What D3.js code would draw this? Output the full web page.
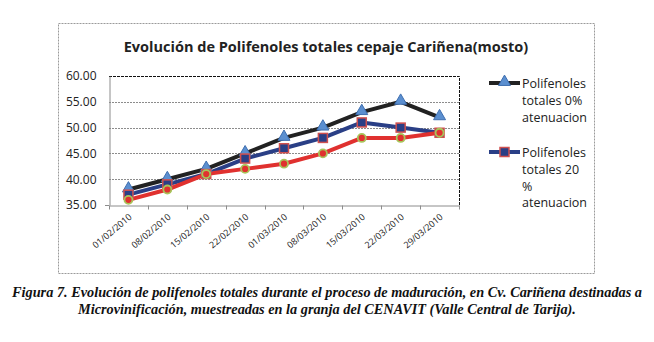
<!DOCTYPE html>
<html>
<head>
<meta charset="utf-8">
<script src="https://cdn.jsdelivr.net/npm/d3@7"></script>
<style>
  body { margin: 0; background: #fff; }
  svg { display: block; }
</style>
</head>
<body>
<svg id="chart" width="654" height="342"></svg>
<script>
// fechas de muestreo
var fechas = ['01/02/2010', '08/02/2010', '15/02/2010', '22/02/2010', '01/03/2010',
              '08/03/2010', '15/03/2010', '22/03/2010', '29/03/2010'];
// polifenoles totales por tratamiento
var atenuacion0 = [38, 40, 42, 45, 48, 50, 53, 55, 52];
var atenuacion20 = [37, 39, 41, 44, 46, 48, 51, 50, 49];
var atenuacion40 = [36, 38, 41, 42, 43, 45, 48, 48, 49];
var yTicks = [35, 40, 45, 50, 55, 60];

var series = [
    { name: ['Polifenoles', 'totales 0%', 'atenuacion'], values: atenuacion0, line: '#222222', marker: 'triangle', fill: '#5b8fd0', stroke: '#3f6fb0' },
    { name: ['Polifenoles', 'totales 20', '%', 'atenuacion'], values: atenuacion20, line: '#2a3f86', marker: 'square', fill: '#2a3f86', stroke: '#d0504f' },
    { name: null, values: atenuacion40, line: '#e0312f', marker: 'circle', fill: '#e0312f', stroke: '#a8c45a' }
];

var svg = d3.select('#chart');

// marco del grafico
svg.append('rect')
    .attr('x', 58.5).attr('y', 23.5)
    .attr('width', 536).attr('height', 250)
    .attr('fill', 'none')
    .attr('stroke', '#9a9a9a')
    .attr('stroke-dasharray', '2,1');

svg.append('text')
    .attr('x', 326).attr('y', 52)
    .attr('text-anchor', 'middle')
    .attr('font-family', 'Open Sans, Noto Sans, sans-serif')
    .attr('font-weight', 'bold')
    .attr('font-size', 14.5)
    .attr('fill', '#222')
    .text('Evolución de Polifenoles totales cepaje Cariñena(mosto)');

var plot = { left: 109, right: 459, top: 76, bottom: 205 };

var x = d3.scaleBand().domain(fechas).range([plot.left, plot.right]).padding(0);
var y = d3.scaleLinear().domain([35, 60]).range([plot.bottom, plot.top]);

// lineas de division
svg.append('g')
    .selectAll('line')
    .data(yTicks.slice(1, -1))
    .join('line')
    .attr('x1', plot.left).attr('x2', plot.right)
    .attr('y1', d => Math.round(y(d)) + 0.5).attr('y2', d => Math.round(y(d)) + 0.5)
    .attr('stroke', '#8c8c8c')
    .attr('stroke-dasharray', '2,1');

// borde superior y derecho del area de trazado
svg.append('path')
    .attr('d', `M${plot.left},${y(60) + 0.5}H${plot.right + 0.5}V${plot.bottom}`)
    .attr('fill', 'none')
    .attr('stroke', '#111')
    .attr('stroke-dasharray', '3,1');

// eje Y
var yAxis = svg.append('g')
    .attr('transform', `translate(${plot.left + 0.5},0)`)
    .call(d3.axisLeft(y).tickValues(yTicks).tickFormat(d3.format('.2f')).tickSize(0).tickPadding(13));
yAxis.select('.domain').attr('stroke', '#8c8c8c');
yAxis.selectAll('text')
    .attr('font-family', 'Open Sans, Noto Sans, sans-serif')
    .attr('font-size', 12)
    .attr('fill', '#222');

// eje X con marcas entre categorias
var xAxis = svg.append('g')
    .attr('transform', `translate(0,${plot.bottom + 0.5})`)
    .call(d3.axisBottom(x).tickSize(0).tickFormat(''));
xAxis.select('.domain').attr('stroke', '#8c8c8c');

var bordes = fechas.map(d => x(d)).concat([x(fechas[fechas.length - 1]) + x.bandwidth()]);
xAxis.selectAll('.borde')
    .data(bordes)
    .join('line')
    .attr('class', 'borde')
    .attr('x1', d => Math.round(d) + 0.5).attr('x2', d => Math.round(d) + 0.5)
    .attr('y1', 0).attr('y2', 4)
    .attr('stroke', '#8c8c8c');

svg.append('path')
    .attr('d', `M${plot.left - 4},${plot.bottom + 0.5}H${plot.left}`)
    .attr('stroke', '#8c8c8c');

svg.append('g')
    .selectAll('text')
    .data(fechas)
    .join('text')
    .attr('transform', d => `translate(${x(d) + x.bandwidth() / 2 + 4},${plot.bottom + 13}) rotate(-40)`)
    .attr('text-anchor', 'end')
    .attr('font-family', 'Open Sans, Noto Sans, sans-serif')
    .attr('font-size', 9)
    .attr('fill', '#222')
    .text(d => d);

var cx = (d, i) => x(fechas[i]) + x.bandwidth() / 2;

var line = d3.line()
    .x((d, i) => cx(d, i))
    .y(d => y(d));

function drawMarker(g, s, px, py) {
    if (s.marker === 'triangle') {
        g.append('path')
            .attr('d', d3.symbol(d3.symbolTriangle, 62)())
            .attr('transform', `translate(${px},${py - 1})`)
            .attr('fill', s.fill).attr('stroke', s.stroke).attr('stroke-width', 1);
    } else if (s.marker === 'square') {
        g.append('rect')
            .attr('x', px - 4.5).attr('y', py - 4.5)
            .attr('width', 9).attr('height', 9)
            .attr('fill', s.fill).attr('stroke', s.stroke).attr('stroke-width', 1.5);
    } else {
        g.append('circle')
            .attr('cx', px).attr('cy', py).attr('r', 4)
            .attr('fill', s.fill).attr('stroke', s.stroke).attr('stroke-width', 1.8);
    }
}

series.forEach(function (s) {
    svg.append('path')
        .datum(s.values)
        .attr('d', line)
        .attr('fill', 'none')
        .attr('stroke', s.line)
        .attr('stroke-width', 4)
        .attr('stroke-linejoin', 'round');
});

series.forEach(function (s) {
    var g = svg.append('g');
    s.values.forEach((v, i) => drawMarker(g, s, cx(v, i), y(v)));
});

// leyenda
var legendTop = [83, 152];
series.filter(s => s.name).forEach(function (s, k) {
    var ly = legendTop[k];
    var g = svg.append('g');
    g.append('line')
        .attr('x1', 489).attr('x2', 520)
        .attr('y1', ly).attr('y2', ly)
        .attr('stroke', s.line).attr('stroke-width', 4);
    drawMarker(g, s, 504.5, ly);
    g.append('text')
        .attr('x', 522).attr('y', ly + 5)
        .attr('font-family', 'Open Sans, Noto Sans, sans-serif')
        .attr('font-size', 12.5)
        .attr('fill', '#222')
        .selectAll('tspan')
        .data(s.name)
        .join('tspan')
        .attr('x', 522)
        .attr('dy', (d, i) => i === 0 ? 0 : 16.8)
        .text(d => d);
});

// pie de figura: la primera linea ocupa el ancho y la segunda usa la misma escala
var pie = svg.append('g')
    .attr('font-family', 'Liberation Serif, serif')
    .attr('font-style', 'italic')
    .attr('font-weight', 'bold')
    .attr('font-size', 14.5)
    .attr('fill', '#111');
var linea1 = pie.append('text')
    .attr('x', 12).attr('y', 297)
    .text('Figura 7. Evolución de polifenoles totales durante el proceso de maduración, en Cv. Cariñena destinadas a');
var linea2 = pie.append('text')
    .attr('y', 314)
    .text('Microvinificación, muestreadas en la granja del CENAVIT (Valle Central de Tarija).');
var escala = 630 / linea1.node().getComputedTextLength();
var ancho2 = linea2.node().getComputedTextLength() * escala;
linea1.attr('textLength', 630).attr('lengthAdjust', 'spacingAndGlyphs');
linea2.attr('x', 327 - ancho2 / 2)
    .attr('textLength', ancho2)
    .attr('lengthAdjust', 'spacingAndGlyphs');
</script>
</body>
</html>
